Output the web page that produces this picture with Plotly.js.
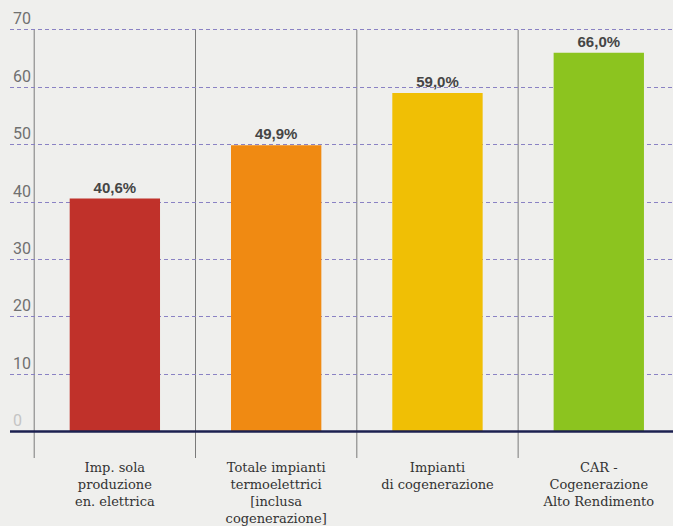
<!DOCTYPE html>
<html><head><meta charset="utf-8">
<script src="https://cdn.plot.ly/plotly-3.0.1.min.js"></script>
<style>html,body{margin:0;padding:0;background:#efefed;}</style>
</head><body><div id="chart" style="width:673px;height:526px;"></div>
<script>
const categories = ["Imp. sola<br>produzione<br>en. elettrica", "Totale impianti<br>termoelettrici<br>[inclusa<br>cogenerazione]", "Impianti<br>di cogenerazione", "CAR -<br>Cogenerazione<br>Alto Rendimento"];
const values = [40.6, 49.9, 59.0, 66.0];
const barColors = ["#c0312a", "#f08a12", "#f0bf05", "#8cc41f"];
const yTicks = [0, 10, 20, 30, 40, 50, 60, 70];
const yTickText = ["0", "10", "20", "30", "40", "50", "60", "70"];

const xIdx = categories.map((c, i) => i);
const trace = {
  type: 'bar', x: xIdx, y: values, width: 0.56,
  marker: {color: barColors, line: {width: 0}},
  texttemplate: '%{y:.1f}%', textposition: 'outside', cliponaxis: false,
  textfont: {family: 'Arial, Liberation Sans, sans-serif', size: 15, color: '#454545', weight: 'bold'},
  hoverinfo: 'skip'
};
const shapes = [];
for (let i = 0; i <= categories.length - 1; i++) {
  shapes.push({type: 'line', xref: 'x', yref: 'y', x0: i - 0.5, x1: i - 0.5, y0: -4.6, y1: 70,
    line: {color: '#7a7a7a', width: 1}, layer: 'below'});
}
shapes.push({type: 'line', xref: 'paper', yref: 'y', x0: 0, x1: 1, y0: 0, y1: 0,
  line: {color: '#1c2150', width: 2.5}});

const annotations = yTicks.map((v, i) => ({
  xref: 'paper', yref: 'y', x: 0, y: v, xanchor: 'left', yanchor: 'middle', yshift: 11, xshift: 1,
  text: yTickText[i], showarrow: false,
  font: {family: 'Liberation Sans Narrow, Roboto, sans-serif', size: 16, color: v === 0 ? '#c4c4c4' : '#707070'}
}));

const layout = {
  width: 673, height: 526,
  margin: {l: 10, r: 0, t: 27, b: 68},
  paper_bgcolor: '#efefed', plot_bgcolor: '#efefed',
  separators: ',.',
  showlegend: false,
  xaxis: {range: [-0.65, 3.46], tickvals: xIdx, ticktext: categories, showgrid: false, zeroline: false,
    ticks: '', showline: false, ticklabelstandoff: 0,
    tickfont: {family: 'DejaVu Serif, serif', size: 13, color: '#333'}},
  yaxis: {range: [-4.6, 70.5], tickvals: yTicks, showticklabels: false, showgrid: true, zeroline: false,
    gridcolor: '#8a82c4', griddash: '4px,3px', gridwidth: 1, showline: false, ticks: ''},
  shapes: shapes,
  annotations: annotations
};
Plotly.newPlot('chart', [trace], layout, {staticPlot: true});
</script></body></html>
